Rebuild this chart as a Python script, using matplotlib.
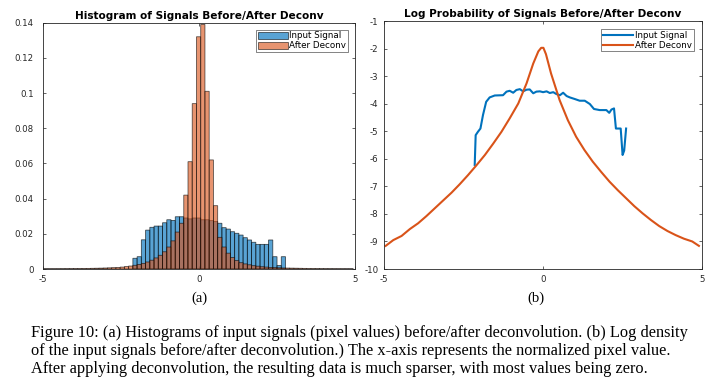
import numpy as np
import matplotlib
matplotlib.use("Agg")
import matplotlib.pyplot as plt

# histogram bins (width ~0.136, one edge near 0.05)
BIN_WIDTH = 0.136
BIN_OFFSET = 0.05

# (a) input signal: bins k=-16..19
input_first_bin = -16
input_hist = [0.0061, 0.0070, 0.0166, 0.0221, 0.0237, 0.0244, 0.0244, 0.0263,
              0.0280, 0.0276, 0.0297, 0.0297, 0.0290, 0.0285, 0.0290, 0.0290,
              0.0280, 0.0280, 0.0275, 0.0270, 0.0260, 0.0235, 0.0227, 0.0212,
              0.0203, 0.0193, 0.0178, 0.0165, 0.0152, 0.0140, 0.0140, 0.0140,
              0.0165, 0.0070, 0.0020, 0.0070]

# (a) after deconv: bins k=-37..35
deconv_first_bin = -37
deconv_hist = [0.00011, 0.00012, 0.00013, 0.00014, 0.00016, 0.00019, 0.00021,
               0.00024, 0.00027, 0.00030, 0.00034, 0.00039, 0.00044, 0.00050,
               0.00058, 0.00068, 0.00078, 0.00090, 0.00110, 0.00140, 0.00170,
               0.00210, 0.00260, 0.00320, 0.00400, 0.00500, 0.00630, 0.00780,
               0.00980, 0.01250, 0.01600, 0.02100, 0.02600, 0.04200, 0.06100,
               0.09400, 0.13200, 0.13900, 0.10100, 0.06200, 0.03600, 0.01800,
               0.01250, 0.00900, 0.00650, 0.00480, 0.00360, 0.00290, 0.00240,
               0.00190, 0.00160, 0.00130, 0.00110, 0.00090, 0.00080, 0.00070,
               0.00060, 0.00055, 0.00050, 0.00045, 0.00040, 0.00035, 0.00030,
               0.00027, 0.00024, 0.00021, 0.00019, 0.00017, 0.00015, 0.00014,
               0.00013, 0.00012, 0.00011]

# (b) log probability curves
input_log_x = [-2.14, -2.11, -2.04, -1.96, -1.88, -1.78, -1.67, -1.51, -1.25,
               -1.14, -1.04, -0.93, -0.83, -0.72, -0.62, -0.51, -0.41, -0.30,
               -0.20, -0.09, 0.01, 0.12, 0.22, 0.33, 0.43, 0.54, 0.64, 0.75,
               0.85, 1.01, 1.16, 1.32, 1.48, 1.61, 1.79, 2.00, 2.09, 2.16,
               2.24, 2.30, 2.37, 2.45, 2.51, 2.56, 2.62]
input_log_y = [-6.22, -5.14, -5.02, -4.90, -4.41, -3.93, -3.77, -3.70, -3.69,
               -3.56, -3.53, -3.60, -3.50, -3.47, -3.55, -3.49, -3.48, -3.62,
               -3.56, -3.55, -3.58, -3.55, -3.61, -3.58, -3.65, -3.69, -3.60,
               -3.72, -3.77, -3.83, -3.89, -3.89, -4.01, -4.19, -4.23, -4.23,
               -4.33, -4.21, -4.17, -4.90, -4.90, -4.90, -5.86, -5.70, -4.90]

deconv_log_x = [-4.94, -4.70, -4.44, -4.18, -3.92, -3.66, -3.40, -3.14, -2.87,
                -2.61, -2.35, -2.09, -1.82, -1.56, -1.30, -1.04, -0.77, -0.51,
                -0.30, -0.14, -0.05, 0.02, 0.10, 0.26, 0.53, 0.79, 1.05, 1.31,
                1.57, 1.84, 2.10, 2.36, 2.62, 2.88, 3.14, 3.40, 3.66, 3.92,
                4.18, 4.44, 4.70, 4.91]
deconv_log_y = [-9.16, -8.95, -8.80, -8.55, -8.34, -8.08, -7.80, -7.52, -7.23,
                -6.92, -6.59, -6.24, -5.86, -5.45, -5.02, -4.53, -3.99, -3.26,
                -2.54, -2.10, -1.97, -1.97, -2.20, -2.90, -3.87, -4.60, -5.20,
                -5.68, -6.10, -6.48, -6.83, -7.14, -7.43, -7.72, -7.98, -8.22,
                -8.44, -8.62, -8.77, -8.90, -9.00, -9.16]

BLUE = (0.0, 0.447, 0.741)
ORANGE = (0.85, 0.325, 0.098)
AX_COLOR = "#262626"

plt.rcParams["font.family"] = ["DejaVu Sans"]

fig = plt.figure(figsize=(7.2, 3.91), dpi=100)
ax1 = fig.add_axes([0.0601, 0.312, 0.433, 0.630])
ax2 = fig.add_axes([0.533, 0.312, 0.4417, 0.634])


def edges_for(first, n):
    return BIN_OFFSET + BIN_WIDTH * np.arange(first, first + n + 1)


def style_axes(ax, ypad):
    for s in ax.spines.values():
        s.set_color(AX_COLOR)
        s.set_linewidth(0.6)
    ax.tick_params(direction="in", length=2.5, width=0.5, labelsize=6.2,
                   colors=AX_COLOR, top=True, right=True)
    ax.tick_params(axis="x", pad=4)
    ax.tick_params(axis="y", pad=ypad)


e_in = edges_for(input_first_bin, len(input_hist))
e_dc = edges_for(deconv_first_bin, len(deconv_hist))
ax1.hist(e_in[:-1], bins=e_in, weights=input_hist, color=BLUE, alpha=0.65,
         edgecolor="black", linewidth=0.6, label="Input Signal", zorder=3,
         snap=False)
ax1.hist(e_dc[:-1], bins=e_dc, weights=deconv_hist, color=ORANGE, alpha=0.62,
         edgecolor="black", linewidth=0.6, label="After Deconv", zorder=3,
         snap=False)
ax1.set_xlim(-5, 5)
ax1.set_ylim(0, 0.14)
ax1.set_xticks([-5, 0, 5])
ax1.set_xticklabels(["-5", "0", "5"])
ax1.set_yticks(np.arange(0, 0.141, 0.02))
ax1.set_yticklabels(["0", "0.02", "0.04", "0.06", "0.08", "0.1", "0.12", "0.14"])
style_axes(ax1, 7)
ax1.set_title("Histogram of Signals Before/After Deconv", fontsize=7.6,
              fontweight="bold", pad=3)
leg1 = ax1.legend(loc="upper right", fontsize=6.3, frameon=True, fancybox=False,
                  borderpad=0.2, handlelength=3.4, handleheight=0.9,
                  handletextpad=0.2, labelspacing=0.1, borderaxespad=0.8)
leg1.get_frame().set_edgecolor(AX_COLOR)
leg1.get_frame().set_linewidth(0.5)
leg1.set_zorder(5)

ax2.plot(input_log_x, input_log_y, color=BLUE, lw=1.5, label="Input Signal")
ax2.plot(deconv_log_x, deconv_log_y, color=ORANGE, lw=1.5, label="After Deconv")
ax2.set_xlim(-5, 5)
ax2.set_ylim(-10, -1)
ax2.set_xticks([-5, 0, 5])
ax2.set_xticklabels(["-5", "0", "5"])
ax2.set_yticks(np.arange(-10, 0))
ax2.set_yticklabels([str(v) for v in range(-10, 0)])
style_axes(ax2, 4)
ax2.set_title("Log Probability of Signals Before/After Deconv", fontsize=7.6,
              fontweight="bold", pad=3)
leg2 = ax2.legend(loc="upper right", fontsize=6.3, frameon=True, fancybox=False,
                  borderpad=0.2, handlelength=3.4, handletextpad=0.3,
                  labelspacing=0.1, borderaxespad=0.9)
leg2.get_frame().set_edgecolor(AX_COLOR)
leg2.get_frame().set_linewidth(0.5)

serif = ["Liberation Serif", "DejaVu Serif"]
fig.text(199 / 720, 1 - 298 / 391, "(a)", ha="center", va="center",
         fontsize=10.5, family=serif)
fig.text(536 / 720, 1 - 298 / 391, "(b)", ha="center", va="center",
         fontsize=10.5, family=serif)

caption = [
    "Figure 10: (a) Histograms of input signals (pixel values) before/after deconvolution. (b) Log density",
    "of the input signals before/after deconvolution.) The x-axis represents the normalized pixel value.",
    "After applying deconvolution, the resulting data is much sparser, with most values being zero.",
]
for i, line in enumerate(caption):
    fig.text(31 / 720, 1 - (333 + 18 * i) / 391, line, ha="left", va="center",
             fontsize=11.8, family=serif)

fig.savefig("out.png", dpi=100)
